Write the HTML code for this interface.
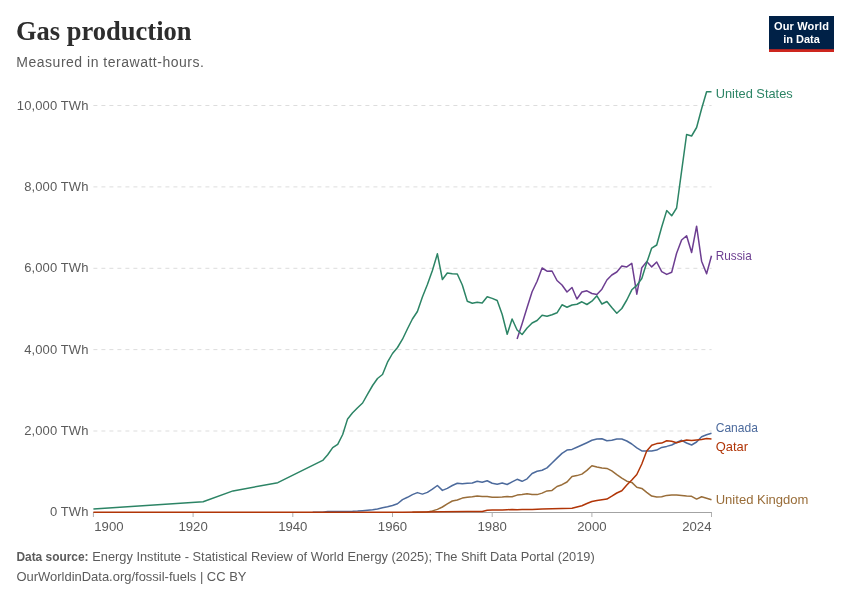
<!DOCTYPE html>
<html lang="en"><head><meta charset="utf-8"><title>Gas production</title>
<style>
html,body{margin:0;padding:0;background:#fff;}
body{width:850px;height:600px;overflow:hidden;}
svg{display:block;font-family:"Liberation Sans",sans-serif;}
.title{font-family:"Liberation Serif",serif;font-weight:700;font-size:28px;fill:#2d2d2d;}
.sub{font-size:14px;fill:#5b5b5b;}
.ax{font-size:13px;fill:#5b5b5b;}
.lb{font-size:13.2px;}
.ft{font-size:13px;fill:#5b5b5b;}
.lg{font-size:11px;font-weight:700;fill:#fff;}
</style></head><body>
<svg width="850" height="600" viewBox="0 0 850 600">
<rect width="850" height="600" fill="#fff"/>
<text x="16" y="40.2" class="title" textLength="175.5" lengthAdjust="spacingAndGlyphs">Gas production</text>
<text x="16.3" y="66.8" class="sub" textLength="187.6" lengthAdjust="spacing">Measured in terawatt-hours.</text>
<g><rect x="769" y="16" width="65" height="36" fill="#002147"/><rect x="769" y="49.2" width="65" height="2.8" fill="#CE261E"/>
<text x="801.4" y="30.4" text-anchor="middle" class="lg" textLength="55" lengthAdjust="spacing">Our World</text>
<text x="801.5" y="42.7" text-anchor="middle" class="lg">in Data</text></g>
<line x1="93.4" x2="711.6" y1="431.0" y2="431.0" stroke="#dddddd" stroke-width="1" stroke-dasharray="4,4"/>
<line x1="93.4" x2="711.6" y1="349.6" y2="349.6" stroke="#dddddd" stroke-width="1" stroke-dasharray="4,4"/>
<line x1="93.4" x2="711.6" y1="268.3" y2="268.3" stroke="#dddddd" stroke-width="1" stroke-dasharray="4,4"/>
<line x1="93.4" x2="711.6" y1="186.9" y2="186.9" stroke="#dddddd" stroke-width="1" stroke-dasharray="4,4"/>
<line x1="93.4" x2="711.6" y1="105.5" y2="105.5" stroke="#dddddd" stroke-width="1" stroke-dasharray="4,4"/>
<line x1="93" x2="712" y1="512.5" y2="512.5" stroke="#a3a3a3" stroke-width="1"/>
<line x1="93.4" x2="93.4" y1="512.5" y2="517" stroke="#b0b0b0" stroke-width="1"/>
<text x="94.3" y="530.7" text-anchor="start" class="ax" textLength="29.3" lengthAdjust="spacingAndGlyphs">1900</text>
<line x1="193.1" x2="193.1" y1="512.5" y2="517" stroke="#b0b0b0" stroke-width="1"/>
<text x="193.1" y="530.7" text-anchor="middle" class="ax" textLength="29.3" lengthAdjust="spacingAndGlyphs">1920</text>
<line x1="292.8" x2="292.8" y1="512.5" y2="517" stroke="#b0b0b0" stroke-width="1"/>
<text x="292.8" y="530.7" text-anchor="middle" class="ax" textLength="29.3" lengthAdjust="spacingAndGlyphs">1940</text>
<line x1="392.5" x2="392.5" y1="512.5" y2="517" stroke="#b0b0b0" stroke-width="1"/>
<text x="392.5" y="530.7" text-anchor="middle" class="ax" textLength="29.3" lengthAdjust="spacingAndGlyphs">1960</text>
<line x1="492.2" x2="492.2" y1="512.5" y2="517" stroke="#b0b0b0" stroke-width="1"/>
<text x="492.2" y="530.7" text-anchor="middle" class="ax" textLength="29.3" lengthAdjust="spacingAndGlyphs">1980</text>
<line x1="591.9" x2="591.9" y1="512.5" y2="517" stroke="#b0b0b0" stroke-width="1"/>
<text x="591.9" y="530.7" text-anchor="middle" class="ax" textLength="29.3" lengthAdjust="spacingAndGlyphs">2000</text>
<line x1="711.5" x2="711.5" y1="512.5" y2="517" stroke="#b0b0b0" stroke-width="1"/>
<text x="711.5" y="530.7" text-anchor="end" class="ax" textLength="29.3" lengthAdjust="spacingAndGlyphs">2024</text>
<text x="88.5" y="516.0" text-anchor="end" class="ax" letter-spacing="0.11">0 TWh</text>
<text x="88.5" y="435.1" text-anchor="end" class="ax" letter-spacing="0.11">2,000 TWh</text>
<text x="88.5" y="353.7" text-anchor="end" class="ax" letter-spacing="0.11">4,000 TWh</text>
<text x="88.5" y="272.4" text-anchor="end" class="ax" letter-spacing="0.11">6,000 TWh</text>
<text x="88.5" y="191.0" text-anchor="end" class="ax" letter-spacing="0.11">8,000 TWh</text>
<text x="88.5" y="109.6" text-anchor="end" class="ax" letter-spacing="0.11">10,000 TWh</text>
<path d="M312.7,512.2 L322.7,512.2 L327.7,511.4 L342.7,511.4 L352.6,511.3 L357.6,511.1 L362.6,510.7 L367.6,510.2 L372.6,509.7 L377.5,508.9 L382.5,507.7 L387.5,506.7 L392.5,505.5 L397.5,503.8 L402.5,499.6 L407.5,497.3 L412.4,494.6 L417.4,492.6 L422.4,494.1 L427.4,492.4 L432.4,489.2 L437.4,485.5 L442.4,490.4 L447.3,488.4 L452.3,485.5 L457.3,483.2 L462.3,483.7 L467.3,483.2 L472.3,483.0 L477.2,481.3 L482.2,482.3 L487.2,480.8 L492.2,483.2 L497.2,484.2 L502.2,483.0 L507.2,484.5 L512.1,481.8 L517.1,479.3 L522.1,481.3 L527.1,478.8 L532.1,473.5 L537.1,471.3 L542.1,470.2 L547.0,467.9 L552.0,463.0 L557.0,458.1 L562.0,453.4 L567.0,450.1 L572.0,449.4 L576.9,447.2 L581.9,445.0 L586.9,442.7 L591.9,440.3 L596.9,439.0 L601.9,438.8 L606.9,440.8 L611.8,440.3 L616.8,439.0 L621.8,439.0 L626.8,441.0 L631.8,444.0 L636.8,447.9 L641.8,450.9 L646.7,451.1 L651.7,451.1 L656.7,450.1 L661.7,447.4 L666.7,446.4 L671.7,445.0 L676.6,442.5 L681.6,440.3 L686.6,443.0 L691.6,445.0 L696.6,442.0 L701.6,436.7 L706.6,434.8 L711.5,433.2" fill="none" stroke="#4C6A9C" stroke-width="1.5" stroke-linejoin="round" stroke-linecap="butt"/>
<path d="M412.4,512.2 L422.4,512.2 L427.4,512.0 L432.4,510.9 L437.4,509.4 L442.4,507.0 L447.3,503.8 L452.3,501.0 L457.3,500.0 L462.3,498.1 L467.3,497.3 L472.3,496.8 L477.2,496.1 L482.2,496.6 L487.2,496.6 L492.2,497.3 L497.2,497.3 L502.2,497.1 L507.2,496.6 L512.1,496.8 L517.1,495.1 L522.1,494.5 L527.1,493.7 L532.1,494.4 L537.1,494.6 L542.1,493.1 L547.0,490.9 L552.0,490.4 L557.0,486.5 L562.0,484.7 L567.0,482.0 L572.0,476.6 L576.9,475.6 L581.9,474.1 L586.9,470.4 L591.9,465.7 L596.9,466.9 L601.9,467.9 L606.9,468.4 L611.8,470.9 L616.8,474.6 L621.8,478.1 L626.8,481.2 L631.8,482.4 L636.8,487.2 L641.8,488.4 L646.7,492.3 L651.7,496.1 L656.7,497.1 L661.7,496.8 L666.7,495.4 L671.7,494.9 L676.6,495.1 L681.6,495.6 L686.6,496.1 L691.6,496.3 L696.6,499.1 L701.6,496.8 L706.6,498.3 L711.5,499.8" fill="none" stroke="#996D39" stroke-width="1.5" stroke-linejoin="round" stroke-linecap="butt"/>
<path d="M93.4,512.2 L402.5,512.2 L442.4,511.8 L467.3,511.5 L482.2,511.4 L487.2,510.2 L492.2,510.0 L497.2,510.1 L502.2,509.9 L507.2,509.7 L512.1,509.5 L517.1,509.7 L522.1,509.6 L532.1,509.4 L542.1,508.9 L552.0,508.7 L562.0,508.4 L572.0,508.2 L576.9,507.0 L581.9,505.7 L586.9,503.5 L591.9,501.5 L596.9,500.5 L601.9,499.8 L606.9,499.1 L611.8,496.2 L616.8,493.0 L621.8,490.8 L626.8,485.0 L631.8,480.0 L636.8,474.5 L641.8,464.0 L646.7,451.0 L651.7,445.3 L656.7,443.6 L661.7,443.1 L666.7,440.8 L671.7,441.3 L676.6,442.7 L681.6,441.3 L686.6,440.0 L691.6,440.5 L696.6,440.0 L701.6,439.5 L706.6,438.5 L711.5,439.0" fill="none" stroke="#B13507" stroke-width="1.5" stroke-linejoin="round" stroke-linecap="butt"/>
<path d="M517.1,339.0 L522.1,323.8 L527.1,307.5 L532.1,291.8 L537.1,281.2 L542.1,268.0 L547.0,271.2 L552.0,271.0 L557.0,280.5 L562.0,285.0 L567.0,292.0 L572.0,287.5 L576.9,299.0 L581.9,292.0 L586.9,290.8 L591.9,293.5 L596.9,294.5 L601.9,289.2 L606.9,280.0 L611.8,275.0 L616.8,272.0 L621.8,265.9 L626.8,266.9 L631.8,263.4 L636.8,294.2 L641.8,267.8 L646.7,261.6 L651.7,266.9 L656.7,262.0 L661.7,271.6 L666.7,274.4 L671.7,272.2 L676.6,253.2 L681.6,240.0 L686.6,235.8 L691.6,252.5 L696.6,226.2 L701.6,261.2 L706.6,273.8 L711.5,255.8" fill="none" stroke="#6D3E91" stroke-width="1.5" stroke-linejoin="round" stroke-linecap="butt"/>
<path d="M93.4,509.0 L203.1,501.8 L233.0,490.9 L277.8,482.7 L322.7,460.4 L327.7,454.8 L332.7,447.6 L337.7,444.3 L342.7,434.5 L347.6,418.9 L352.6,412.8 L357.6,407.7 L362.6,403.0 L367.6,394.1 L372.6,385.5 L377.5,378.5 L382.5,374.5 L387.5,362.2 L392.5,353.5 L397.5,347.5 L402.5,339.2 L407.5,328.8 L412.4,319.0 L417.4,311.5 L422.4,297.0 L427.4,284.5 L432.4,270.5 L437.4,253.8 L442.4,279.5 L447.3,273.0 L452.3,273.8 L457.3,274.0 L462.3,285.0 L467.3,301.2 L472.3,303.2 L477.2,302.2 L482.2,303.0 L487.2,296.8 L492.2,298.4 L497.2,300.5 L502.2,314.5 L507.2,334.2 L512.1,319.0 L517.1,330.0 L522.1,334.5 L527.1,328.0 L532.1,323.0 L537.1,320.5 L542.1,315.2 L547.0,316.2 L552.0,314.8 L557.0,312.8 L562.0,304.8 L567.0,307.2 L572.0,305.0 L576.9,304.2 L581.9,301.8 L586.9,304.5 L591.9,301.2 L596.9,295.8 L601.9,304.0 L606.9,301.5 L611.8,307.5 L616.8,313.2 L621.8,308.5 L626.8,300.0 L631.8,289.8 L636.8,285.4 L641.8,278.5 L646.7,262.8 L651.7,248.1 L656.7,245.0 L661.7,227.0 L666.7,210.6 L671.7,215.8 L676.6,208.0 L681.6,171.2 L686.6,134.5 L691.6,136.0 L696.6,127.5 L701.6,108.8 L706.6,91.8 L711.5,91.8" fill="none" stroke="#2C8465" stroke-width="1.5" stroke-linejoin="round" stroke-linecap="butt"/>
<text x="715.7" y="98.1" class="lb" fill="#2C8465" textLength="77" lengthAdjust="spacingAndGlyphs">United States</text><text x="715.7" y="260.3" class="lb" fill="#6D3E91" textLength="36" lengthAdjust="spacingAndGlyphs">Russia</text><text x="715.7" y="431.9" class="lb" fill="#4C6A9C" textLength="42.3" lengthAdjust="spacingAndGlyphs">Canada</text><text x="715.7" y="450.5" class="lb" fill="#B13507" textLength="32.3" lengthAdjust="spacingAndGlyphs">Qatar</text><text x="715.7" y="504.2" class="lb" fill="#996D39" textLength="92.8" lengthAdjust="spacingAndGlyphs">United Kingdom</text>
<text x="16.4" y="560.6" class="ft" font-weight="700" textLength="72.2" lengthAdjust="spacingAndGlyphs">Data source:</text>
<text x="92.3" y="560.6" class="ft" textLength="502.4" lengthAdjust="spacingAndGlyphs">Energy Institute - Statistical Review of World Energy (2025); The Shift Data Portal (2019)</text>
<text x="16.4" y="580.6" class="ft" textLength="230.1" lengthAdjust="spacingAndGlyphs">OurWorldinData.org/fossil-fuels | CC BY</text>
</svg>
</body></html>
